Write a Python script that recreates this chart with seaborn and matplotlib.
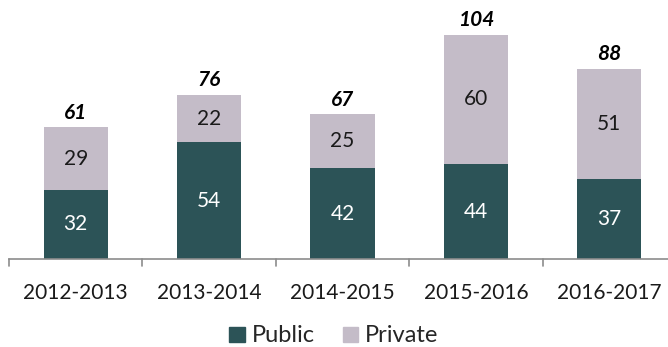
import matplotlib
matplotlib.use("Agg")
import matplotlib.pyplot as plt
import seaborn as sns
import pandas as pd
from matplotlib.patches import Patch

years = ["2012-2013", "2013-2014", "2014-2015", "2015-2016", "2016-2017"]
public = [32, 54, 42, 44, 37]
private = [29, 22, 25, 60, 51]
totals = [61, 76, 67, 104, 88]

c_pub = "#2C5357"
c_priv = "#C4BCC8"

sns.set_theme(style="white")
plt.rcParams['font.family'] = ['Lato', 'DejaVu Sans']

W, H = 668, 347
fig = plt.figure(figsize=(W / 100, H / 100), dpi=100)
left, right, bottom, top = 9, 676, 259, 0
ax = fig.add_axes([left / W, (H - bottom) / H, (right - left) / W, (bottom - top) / H])

df = pd.DataFrame({"year": years, "public": public, "private": private})
sns.barplot(data=df, x="year", y="public", color=c_pub, width=0.48, ax=ax,
            saturation=1, linewidth=0)
sns.barplot(data=df, x="year", y="private", color=c_priv, width=0.48, ax=ax,
            saturation=1, linewidth=0, bottom=df["public"])

ax.set_xlim(-0.5, 4.5)
ax.set_ylim(0, 120)
for s in ["top", "right", "left"]:
    ax.spines[s].set_visible(False)
ax.spines["bottom"].set_color("#8C8C8C")
ax.spines["bottom"].set_linewidth(1.2)
ax.set_yticks([])
ax.set_xlabel("")
ax.set_ylabel("")
ax.set_xticks(range(len(years)))
ax.set_xticklabels(years, fontsize=15, color="#1a1a1a")
ax.tick_params(axis="x", length=0, pad=17)
for b in [i - 0.5 for i in range(len(years))]:
    ax.plot([b, b], [0, -3.3], color="#8C8C8C", lw=1.2, clip_on=False)

for i in range(len(years)):
    ax.text(i, public[i] / 2, str(public[i]), ha="center", va="center",
            fontsize=15, color="white")
    ax.text(i, public[i] + private[i] / 2, str(private[i]), ha="center",
            va="center", fontsize=15, color="#1a1a1a")
    ax.text(i, totals[i] + 2.2, str(totals[i]), ha="center", va="bottom",
            fontsize=15, color="black", fontweight="bold", fontstyle="italic")

handles = [Patch(color=c_pub, label="Public"), Patch(color=c_priv, label="Private")]
fig.legend(handles=handles, loc="center", bbox_to_anchor=(0.5, 1 - 336 / H),
           ncol=2, frameon=False, fontsize=17, handlelength=0.64, handleheight=0.62,
           handletextpad=0.3, columnspacing=1.2, borderpad=0, borderaxespad=0)

fig.savefig("out.png", dpi=100)
